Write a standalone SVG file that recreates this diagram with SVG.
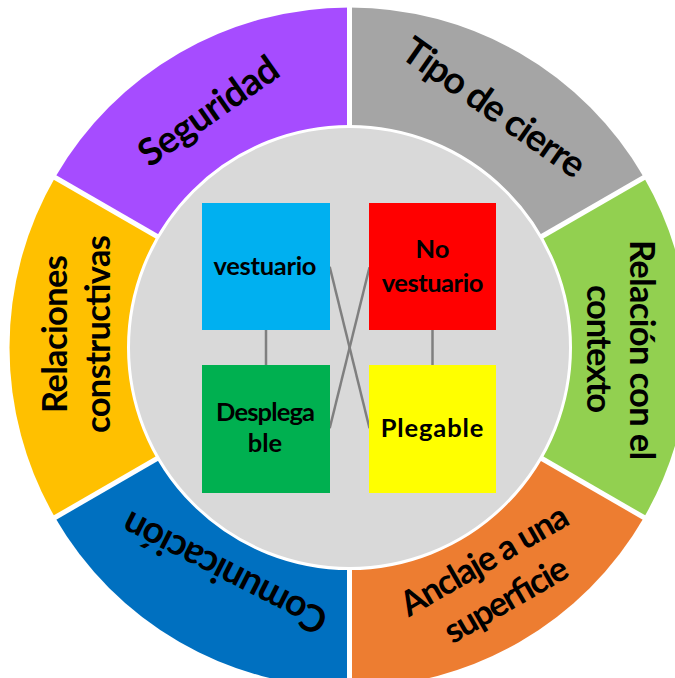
<svg xmlns="http://www.w3.org/2000/svg" width="675" height="678" viewBox="0 0 675 678">
<style>
.lbl{font-family:Lato,"Open Sans","Liberation Sans",sans-serif;font-weight:bold;fill:#000;text-anchor:middle}
.ring{font-size:34.5px}
.ring1{font-size:37.5px}
.sq{font-size:25.5px}
.sep{stroke:#fff;stroke-width:5}
.con{stroke:#7F7F7F;stroke-width:2.5;fill:none}
</style>
<rect width="675" height="678" fill="#fff"/>
<g id="seg-tipo">
<path d="M349.5 347.5 L349.5 7.5 A340 340 0 0 1 643.95 177.5 Z" fill="#A5A5A5"/>
<g transform="translate(492.5,110) rotate(35)"><text class="lbl ring1" x="0" y="10" textLength="214" lengthAdjust="spacing">Tipo de cierre</text></g>
</g>
<g id="seg-relacion-contexto">
<path d="M349.5 347.5 L643.95 177.5 A340 340 0 0 1 643.95 517.5 Z" fill="#92D050"/>
<g transform="translate(630,350) rotate(90)"><text class="lbl ring" x="0" y="0" textLength="220" lengthAdjust="spacing">Relación con el</text></g>
<g transform="translate(586.7,349) rotate(90)"><text class="lbl ring" x="0" y="0" textLength="128" lengthAdjust="spacing">contexto</text></g>
</g>
<g id="seg-anclaje">
<path d="M349.5 347.5 L643.95 517.5 A340 340 0 0 1 349.5 687.5 Z" fill="#ED7D31"/>
<g transform="translate(490.1,570.4) rotate(-30)"><text class="lbl ring" x="0" y="0" textLength="188" lengthAdjust="spacing">Anclaje a una</text></g>
<g transform="translate(511.8,609.9) rotate(-30)"><text class="lbl ring" x="0" y="0" textLength="137" lengthAdjust="spacing">superficie</text></g>
</g>
<g id="seg-comunicacion">
<path d="M349.5 347.5 L349.5 687.5 A340 340 0 0 1 55.05 517.5 Z" fill="#0070C0"/>
<g transform="translate(224,574) rotate(207)"><text class="lbl ring1" x="0" y="14" textLength="225" lengthAdjust="spacing">Comunicación</text></g>
</g>
<g id="seg-relaciones-constructivas">
<path d="M349.5 347.5 L55.05 517.5 A340 340 0 0 1 55.05 177.5 Z" fill="#FFC000"/>
<g transform="translate(66.7,334) rotate(-90)"><text class="lbl ring" x="0" y="0" textLength="158" lengthAdjust="spacing">Relaciones</text></g>
<g transform="translate(110,334) rotate(-90)"><text class="lbl ring" x="0" y="0" textLength="198" lengthAdjust="spacing">constructivas</text></g>
</g>
<g id="seg-seguridad">
<path d="M349.5 347.5 L55.05 177.5 A340 340 0 0 1 349.5 7.5 Z" fill="#A64CFF"/>
<g transform="translate(210,113.3) rotate(-35)"><text class="lbl ring1" x="0" y="10" textLength="162" lengthAdjust="spacing">Seguridad</text></g>
</g>
<g id="separators">
<line class="sep" x1="349.5" y1="347.5" x2="349.5" y2="0"/>
<line class="sep" x1="349.5" y1="347.5" x2="648.3" y2="175"/>
<line class="sep" x1="349.5" y1="347.5" x2="648.3" y2="520"/>
<line class="sep" x1="349.5" y1="347.5" x2="349.5" y2="692.5"/>
<line class="sep" x1="349.5" y1="347.5" x2="50.7" y2="520"/>
<line class="sep" x1="349.5" y1="347.5" x2="50.7" y2="175"/>
</g>
<g id="center-circle">
<circle cx="349.5" cy="347.5" r="221" fill="#D9D9D9" stroke="#fff" stroke-width="3"/>
</g>
<g id="connectors">
<line class="con" x1="266" y1="330" x2="266" y2="365"/>
<line class="con" x1="432.5" y1="330" x2="432.5" y2="365"/>
<line class="con" x1="329.7" y1="266.7" x2="369.5" y2="428.3"/>
<line class="con" x1="369.5" y1="267.3" x2="329.7" y2="428.3"/>
</g>
<g id="node-vestuario">
<rect x="202" y="203" width="128" height="127" fill="#00B0F0"/>
<text class="lbl sq" x="265" y="275" textLength="103" lengthAdjust="spacing">vestuario</text>
</g>
<g id="node-no-vestuario">
<rect x="369" y="203" width="127" height="127" fill="#FF0000"/>
<text class="lbl sq" x="432.5" y="258.3">No</text>
<text class="lbl sq" x="432.5" y="291.7" textLength="101.6" lengthAdjust="spacing">vestuario</text>
</g>
<g id="node-desplegable">
<rect x="202" y="365" width="128" height="128" fill="#00B050"/>
<text class="lbl sq" x="265.5" y="421" textLength="99" lengthAdjust="spacing">Desplega</text>
<text class="lbl sq" x="265" y="451.7">ble</text>
</g>
<g id="node-plegable">
<rect x="369" y="365" width="127" height="128" fill="#FFFF00"/>
<text class="lbl sq" x="432" y="437" textLength="102.6" lengthAdjust="spacing">Plegable</text>
</g>
</svg>
